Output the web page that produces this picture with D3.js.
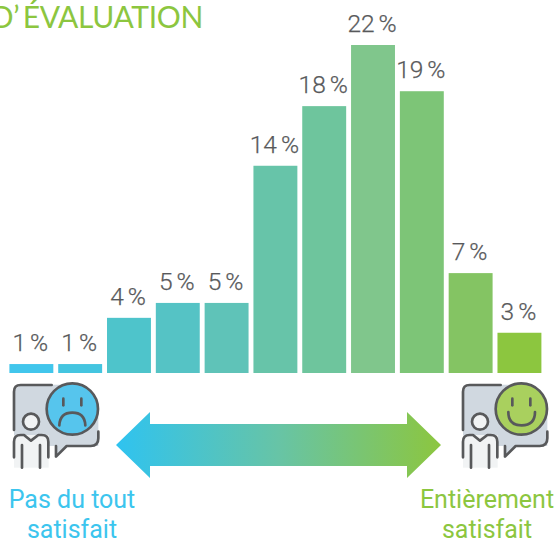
<!DOCTYPE html>
<html>
<head>
<meta charset="utf-8">
<script src="https://cdn.jsdelivr.net/npm/d3@7"></script>
<style>
  html, body { margin: 0; padding: 0; background: #fff; overflow: hidden; }
  svg { display: block; }
  text { font-family: Roboto, sans-serif; }
</style>
</head>
<body>
<main></main>
<script>
// data
const categories = ['1', '2', '3', '4', '5', '6', '7', '8', '9', '10', '11'];
const barValues = [0.6, 0.6, 3.7, 4.7, 4.7, 13.9, 17.9, 22, 18.9, 6.7, 2.7]; // heights as drawn
const barLabels = ['1 %', '1 %', '4 %', '5 %', '5 %', '14 %', '18 %', '22 %', '19 %', '7 %', '3 %'];
const barColors = ['#41c6ec', '#44c5e0', '#4ec4cb', '#55c3c5', '#5fc3b8', '#67c4a9', '#6ec59d', '#80c68c', '#7dc577', '#84c463', '#8cc63f'];
const titleText = 'D’\u2009ÉVALUATION';
const leftLabel = ['Pas du tout', 'satisfait'];
const rightLabel = ['Entièrement', 'satisfait'];

const width = 557;
const height = 539;
const blue = '#3cc5ee';
const green = '#8cc63f';
const grey = '#58595b';

const svg = d3.select('main')
  .append('svg')
  .attr('width', width)
  .attr('height', height);

// Scales
const xScale = d3.scaleBand()
  .domain(categories)
  .range([9.4, 541.4])
  .paddingInner(0.1)
  .paddingOuter(0);

const yScale = d3.scaleLinear()
  .domain([0, 22])
  .range([373, 45]);

const colorScale = d3.scaleOrdinal()
  .domain(categories)
  .range(barColors);

// bars
svg.selectAll('rect.bar')
  .data(categories)
  .enter()
  .append('rect')
  .attr('class', 'bar')
  .attr('x', d => xScale(d))
  .attr('y', (d, i) => yScale(barValues[i]))
  .attr('width', xScale.bandwidth())
  .attr('height', (d, i) => yScale(0) - yScale(barValues[i]))
  .attr('fill', d => colorScale(d));

// value labels
svg.selectAll('text.value')
  .data(categories)
  .enter()
  .append('text')
  .attr('class', 'value')
  .attr('x', d => xScale(d) + xScale.bandwidth() / 2 - 1)
  .attr('y', (d, i) => yScale(barValues[i]) - 13)
  .attr('text-anchor', 'middle')
  .attr('font-size', 24.5)
  .attr('font-weight', 300)
  .attr('word-spacing', -2)
  .attr('stroke', grey)
  .attr('stroke-width', 0.25)
  .attr('fill', grey)
  .text((d, i) => barLabels[i]);

// title, cut by the left edge
svg.append('text')
  .attr('x', 203)
  .attr('y', 28)
  .attr('text-anchor', 'end')
  .attr('font-size', 30)
  .attr('letter-spacing', -0.35)
  .attr('fill', green)
  .style('font-family', 'Lato, sans-serif')
  .text(titleText);

// double arrow
const defs = svg.append('defs');
const grad = defs.append('linearGradient')
  .attr('id', 'arrowGrad')
  .attr('gradientUnits', 'userSpaceOnUse')
  .attr('x1', 116).attr('x2', 441)
  .attr('y1', 0).attr('y2', 0);
grad.append('stop').attr('offset', 0).attr('stop-color', '#2fc3f0');
grad.append('stop').attr('offset', 0.5).attr('stop-color', '#67c4a6');
grad.append('stop').attr('offset', 1).attr('stop-color', green);

svg.append('path')
  .attr('d', 'M116,445 L150,412 V424 H407 V412 L441,445 L407,478 V466 H150 V478 Z')
  .attr('fill', 'url(#arrowGrad)');

// person + speech bubble icon, drawn in 3x zoom units
function drawIcon(dx, faceColor, happy) {
  const g = svg.append('g')
    .attr('transform', `translate(${dx},370) scale(${1 / 3})`);
  const ink = '#58595b';

  g.append('path')
    .attr('d', 'M60,44 H217 V117 H295 V228 H200 L168,260 V228 H42 V62 Z')
    .attr('fill', '#d0d8e0');
  g.append('rect')
    .attr('x', 42).attr('y', 195)
    .attr('width', 104).attr('height', 98)
    .attr('fill', '#f1f3f4');

  const line = g.append('g')
    .attr('fill', 'none')
    .attr('stroke', ink)
    .attr('stroke-width', 8)
    .attr('stroke-linecap', 'round')
    .attr('stroke-linejoin', 'round');

  // bubble outline
  line.append('path').attr('d', 'M155,45 H62 Q42,45 42,65 V180');
  line.append('path').attr('d', 'M295,185 V205 Q295,228 272,228 H200 L168,260 V228');

  // face
  line.append('circle')
    .attr('cx', 217).attr('cy', 117).attr('r', 77)
    .attr('fill', faceColor);
  line.append('path').attr('d', 'M190,86 V106');
  line.append('path').attr('d', 'M244,86 V106');
  line.append('path')
    .attr('d', happy ? 'M178,126 Q178,166 218,166 Q258,166 258,126' : 'M178,166 Q180,128 217,128 Q254,128 256,166');

  // person
  line.append('circle')
    .attr('cx', 93).attr('cy', 155).attr('r', 24)
    .attr('fill', '#f1f3f4');
  line.append('path').attr('d', 'M42,262 V215 Q42,195 62,195 H72 L93,212 L115,195 H125 Q145,195 145,215 V262');
  line.append('path').attr('d', 'M66,225 V293');
  line.append('path').attr('d', 'M120,225 V293');
}

drawIcon(0, '#56c5ed', false);
drawIcon(449, '#a9d05e', true);

// bottom captions
function drawCaption(lines, cx, color) {
  svg.selectAll(null)
    .data(lines)
    .enter()
    .append('text')
    .attr('x', cx)
    .attr('y', (d, i) => 507.5 + i * 30.5)
    .attr('text-anchor', 'middle')
    .attr('font-size', 25)
    .attr('fill', color)
    .text(d => d);
}

drawCaption(leftLabel, 72, blue);
drawCaption(rightLabel, 487, green);
</script>
</body>
</html>
